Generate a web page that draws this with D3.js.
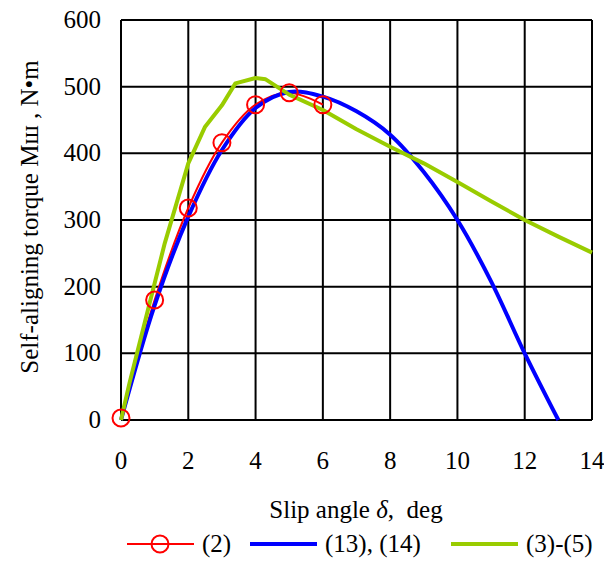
<!DOCTYPE html>
<html>
<head>
<meta charset="utf-8">
<script src="https://cdn.jsdelivr.net/npm/d3@7"></script>
<style>
  body { margin: 0; background: #fff; }
</style>
</head>
<body>
<div id="chart"></div>
<script>
'use strict';

// slip angle values (deg) and torque (N*m)
var xTicks = [0, 2, 4, 6, 8, 10, 12, 14];
var yTicks = [0, 100, 200, 300, 400, 500, 600];

// (2) - measured points
var eq2X = [0, 1, 2, 3, 4, 5, 6];
var eq2Y = [3, 180, 318, 416, 473, 491, 473];

// (13), (14)
var eq13X = [0, 1, 2, 3, 4, 5, 6, 7, 8, 9, 10, 11, 12, 13];
var eq13Y = [0, 172, 305, 405, 468, 492, 485, 463, 428, 372, 300, 208, 100, 0];

// (3)-(5)
var eq3X = [0, 0.25, 1, 1.3, 2, 2.5, 3, 3.4, 4, 4.3, 5, 6, 7, 8, 9, 10, 11, 12, 13, 14];
var eq3Y = [0, 55, 205, 265, 385, 440, 472, 505, 513, 511, 488, 465, 436, 410, 385, 357, 328, 300, 275, 251];

var legendLabels = ['(2)', '(13), (14)', '(3)-(5)'];

var FONT = 'Liberation Serif, Times New Roman, Times, DejaVu Serif, serif';

var width = 604, height = 561;
var margin = {left: 121, right: 12, top: 20, bottom: 141};

var svg = d3.select('#chart').append('svg')
    .attr('width', width)
    .attr('height', height);

var x = d3.scaleLinear().domain([0, 14]).range([margin.left, width - margin.right]);
var y = d3.scaleLinear().domain([0, 600]).range([height - margin.bottom, margin.top]);

// grid
svg.append('g')
    .selectAll('line')
    .data(xTicks)
    .enter().append('line')
    .attr('x1', function(d) { return x(d); })
    .attr('x2', function(d) { return x(d); })
    .attr('y1', y(0))
    .attr('y2', y(600))
    .attr('stroke', '#000')
    .attr('stroke-width', 2);

svg.append('g')
    .selectAll('line')
    .data(yTicks)
    .enter().append('line')
    .attr('x1', x(0))
    .attr('x2', x(14))
    .attr('y1', function(d) { return y(d); })
    .attr('y2', function(d) { return y(d); })
    .attr('stroke', '#000')
    .attr('stroke-width', 2);

// tick labels
svg.append('g')
    .selectAll('text')
    .data(xTicks)
    .enter().append('text')
    .attr('x', function(d) { return x(d); })
    .attr('y', y(0) + 49)
    .attr('text-anchor', 'middle')
    .style('font-family', FONT)
    .style('font-size', '25px')
    .text(function(d) { return d; });

svg.append('g')
    .selectAll('text')
    .data(yTicks)
    .enter().append('text')
    .attr('x', x(0) - 20)
    .attr('y', function(d) { return y(d) + 8; })
    .attr('text-anchor', 'end')
    .style('font-family', FONT)
    .style('font-size', '25px')
    .text(function(d) { return d; });

// axis titles
var xt = svg.append('text')
    .attr('x', 356)
    .attr('y', 518)
    .attr('text-anchor', 'middle')
    .style('font-family', FONT)
    .style('font-size', '25px');
xt.append('tspan').text('Slip angle ');
xt.append('tspan').style('font-style', 'italic').text('δ');
xt.append('tspan').text(',\u00a0 deg');

svg.append('text')
    .attr('transform', 'translate(38,217) rotate(-90)')
    .attr('text-anchor', 'middle')
    .style('font-family', FONT)
    .style('font-size', '25px')
    .text('Self-aligning torque Mш , N•m');

// curves
var smooth = d3.line()
    .curve(d3.curveCatmullRom.alpha(0.5))
    .x(function(d) { return x(d[0]); })
    .y(function(d) { return y(d[1]); });
var line = d3.line()
    .x(function(d) { return x(d[0]); })
    .y(function(d) { return y(d[1]); });

var eq2 = d3.zip(eq2X, eq2Y);
var eq13 = d3.zip(eq13X, eq13Y);
var eq3 = d3.zip(eq3X, eq3Y);

svg.append('path')
    .attr('d', smooth(eq2))
    .attr('fill', 'none')
    .attr('stroke', '#ff0000')
    .attr('stroke-width', 2);

svg.append('path')
    .attr('d', smooth(eq13))
    .attr('fill', 'none')
    .attr('stroke', '#0000ff')
    .attr('stroke-width', 4);

svg.append('path')
    .attr('d', line(eq3))
    .attr('fill', 'none')
    .attr('stroke', '#99cc00')
    .attr('stroke-width', 4)
    .attr('stroke-linejoin', 'round');

svg.append('g')
    .selectAll('circle')
    .data(eq2)
    .enter().append('circle')
    .attr('cx', function(d) { return x(d[0]); })
    .attr('cy', function(d) { return y(d[1]); })
    .attr('r', 8.5)
    .attr('fill', 'none')
    .attr('stroke', '#ff0000')
    .attr('stroke-width', 2);

// legend
var legY = 544;
var legItems = [
    {x: 127, color: '#ff0000', w: 2, marker: true},
    {x: 250, color: '#0000ff', w: 4, marker: false},
    {x: 451, color: '#99cc00', w: 4, marker: false}
];
var leg = svg.append('g')
    .selectAll('g')
    .data(legItems)
    .enter().append('g');
leg.append('line')
    .attr('x1', function(d) { return d.x; })
    .attr('x2', function(d) { return d.x + 67; })
    .attr('y1', legY)
    .attr('y2', legY)
    .attr('stroke', function(d) { return d.color; })
    .attr('stroke-width', function(d) { return d.w; });
leg.filter(function(d) { return d.marker; })
    .append('circle')
    .attr('cx', function(d) { return d.x + 33; })
    .attr('cy', legY)
    .attr('r', 8.5)
    .attr('fill', 'none')
    .attr('stroke', function(d) { return d.color; })
    .attr('stroke-width', 2);
leg.append('text')
    .attr('x', function(d) { return d.x + 75; })
    .attr('y', legY + 8)
    .style('font-family', FONT)
    .style('font-size', '25px')
    .text(function(d, i) { return legendLabels[i]; });
</script>
</body>
</html>
